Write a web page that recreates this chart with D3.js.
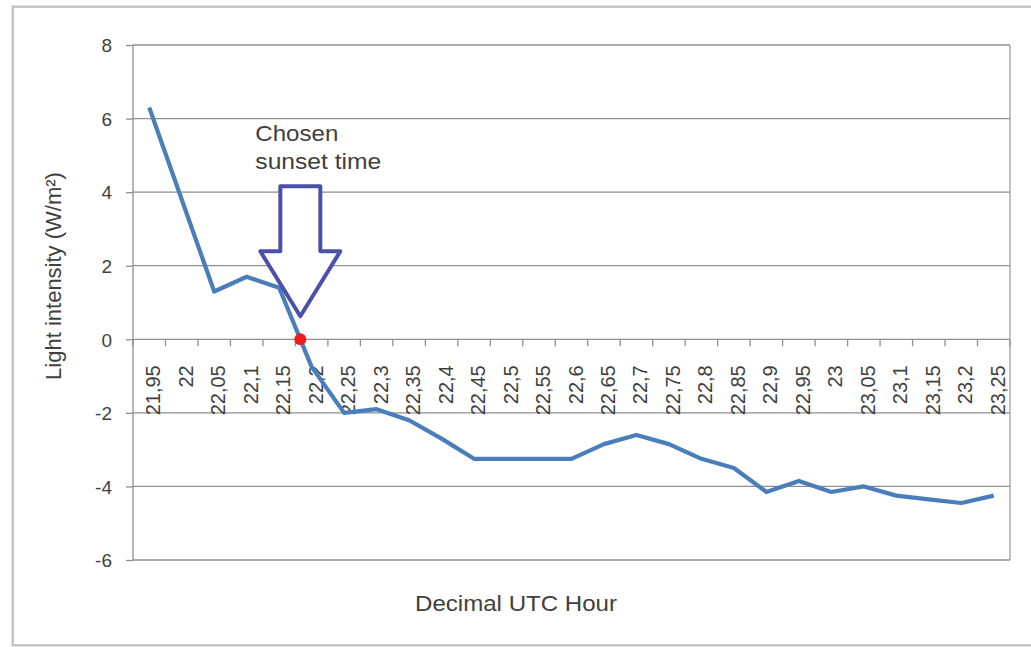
<!DOCTYPE html>
<html>
<head>
<meta charset="utf-8">
<script src="https://cdn.jsdelivr.net/npm/d3@7"></script>
<style>
  body { margin: 0; background: #fff; }
  text { font-family: "Liberation Sans", Arial, sans-serif; fill: #404040; }
</style>
</head>
<body>
<div id="chart"></div>
<script>
// decimal UTC hours on the category axis
var hours = ["21,95","22","22,05","22,1","22,15","22,2","22,25","22,3","22,35","22,4","22,45","22,5","22,55","22,6","22,65","22,7","22,75","22,8","22,85","22,9","22,95","23","23,05","23,1","23,15","23,2","23,25"]
// light intensity, W/m²
var intensity = [6.3,3.8,1.3,1.7,1.4,-0.75,-2.0,-1.9,-2.2,-2.7,-3.25,-3.25,-3.25,-3.25,-2.85,-2.6,-2.85,-3.25,-3.5,-4.15,-3.85,-4.15,-4.0,-4.25,-4.35,-4.45,-4.25]
var yTicks = [-6,-4,-2,0,2,4,6,8]

var W = 1031, H = 647
var pLeft = 133, pRight = 1010, pTop = 45, pBottom = 560

var svg = d3.select("#chart").append("svg").attr("width",W).attr("height",H)

// outer frame
svg.append("rect").attr("x",13).attr("y",7).attr("width",1030).attr("height",638)
  .attr("fill","none").attr("stroke","#e3e3e3").attr("stroke-width",4)
svg.append("rect").attr("x",13).attr("y",7).attr("width",1030).attr("height",638)
  .attr("fill","#fff").attr("stroke","#b8b8b8").attr("stroke-width",1.5)

var x = d3.scaleBand().domain(hours).range([pLeft,pRight])
var y = d3.scaleLinear().domain([-6,8]).range([pBottom,pTop])
var cx = function(i){ return x(hours[i]) + x.bandwidth()/2 }

// gridlines
svg.selectAll(".grid").data(yTicks).enter().append("line")
  .attr("x1",pLeft).attr("x2",pRight)
  .attr("y1",function(d){return y(d)}).attr("y2",function(d){return y(d)})
  .attr("stroke","#8f8f8f").attr("stroke-width",1.3)

// plot border (left and right)
svg.append("line").attr("x1",pLeft).attr("x2",pLeft).attr("y1",pTop).attr("y2",pBottom).attr("stroke","#8f8f8f").attr("stroke-width",1.3)
svg.append("line").attr("x1",pRight).attr("x2",pRight).attr("y1",pTop).attr("y2",pBottom).attr("stroke","#9f9f9f").attr("stroke-width",1.3)

// y axis
var yAxis = svg.append("g").attr("transform","translate("+pLeft+",0)")
  .call(d3.axisLeft(y).tickValues(yTicks).tickSize(7).tickPadding(14).tickFormat(function(d){return String(d)}))
yAxis.select(".domain").remove()
yAxis.selectAll("line").attr("stroke","#8f8f8f").attr("stroke-width",1.3)
yAxis.selectAll("text").attr("font-size","19px").attr("font-family","Liberation Sans, Arial").attr("fill","#383838").attr("dy","0.36em")

// x axis at zero, ticks at band boundaries
var zeroY = y(0)
var bounds = hours.map(function(h){return x(h)}).concat([pRight])
svg.selectAll(".xtick").data(bounds).enter().append("line")
  .attr("x1",function(d){return d}).attr("x2",function(d){return d})
  .attr("y1",zeroY).attr("y2",zeroY+7)
  .attr("stroke","#8f8f8f").attr("stroke-width",1.3)

var xAxis = svg.append("g").attr("transform","translate(0,"+zeroY+")")
  .call(d3.axisBottom(x).tickSize(0))
xAxis.select(".domain").remove()
xAxis.selectAll("text")
  .attr("font-size","20px").attr("font-family","Liberation Sans, Arial").attr("fill","#303030")
  .attr("text-anchor","end")
  .attr("transform","rotate(-90)")
  .attr("x",-26).attr("y",11).attr("dy",0)

// data line
var line = d3.line().x(function(d,i){return cx(i)}).y(function(d){return y(d)})
svg.append("path").datum(intensity).attr("d",line)
  .attr("fill","none").attr("stroke","#4a7ebb").attr("stroke-width",4.2)
  .attr("stroke-linejoin","round")

// sunset point: where the series crosses zero
var k = intensity.findIndex(function(v,i){ return i>0 && intensity[i-1]>0 && v<=0 })
var t = intensity[k-1]/(intensity[k-1]-intensity[k])
var sx = cx(k-1) + t*(cx(k)-cx(k-1))

// arrow annotation above the sunset point
var tipY = zeroY - 23
var arrow = [[sx-20,tipY-130],[sx+20,tipY-130],[sx+20,tipY-65],[sx+40,tipY-65],[sx,tipY],[sx-40,tipY-65],[sx-20,tipY-65]]
svg.append("path").attr("d","M"+arrow.join("L")+"Z")
  .attr("fill","#fff").attr("stroke","#4b50a8").attr("stroke-width",4).attr("stroke-linejoin","round")

svg.append("circle").attr("cx",sx).attr("cy",zeroY).attr("r",6).attr("fill","#f01c1c")

svg.append("text").attr("x",sx-45).attr("y",tipY-175).attr("font-size","22px")
  .attr("textLength",83).attr("lengthAdjust","spacingAndGlyphs").text("Chosen")
svg.append("text").attr("x",sx-45).attr("y",tipY-147).attr("font-size","22px")
  .attr("textLength",126).attr("lengthAdjust","spacingAndGlyphs").text("sunset time")

// axis titles
svg.append("text").attr("transform","translate(61,276) rotate(-90)")
  .attr("text-anchor","middle").attr("font-size","22px").text("Light intensity (W/m²)")
svg.append("text").attr("x",516).attr("y",611)
  .attr("text-anchor","middle").attr("font-size","22px")
  .attr("textLength",202).attr("lengthAdjust","spacingAndGlyphs").text("Decimal UTC Hour")
</script>
</body>
</html>
